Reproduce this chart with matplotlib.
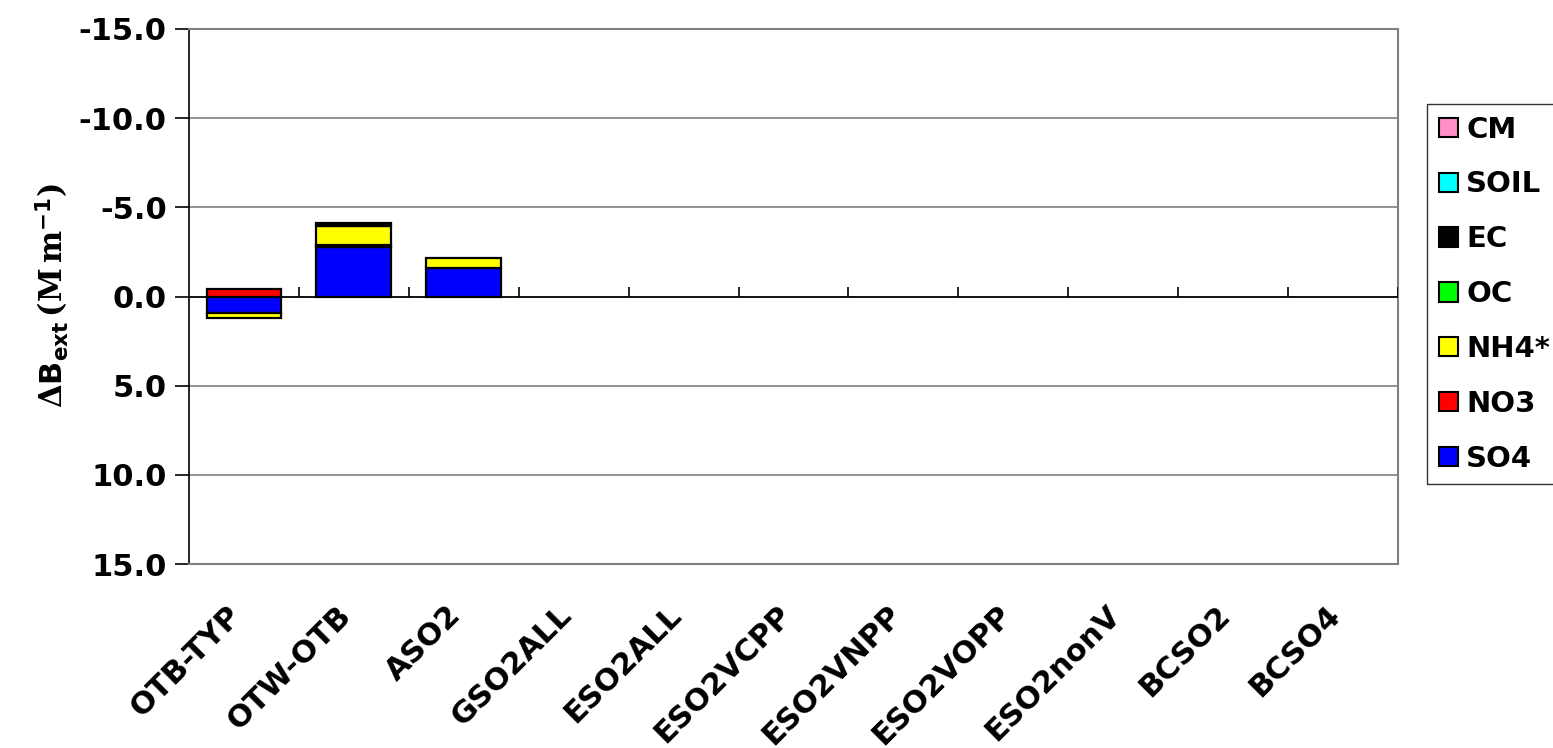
import matplotlib
matplotlib.use("Agg")
import matplotlib.pyplot as plt
import matplotlib.transforms as mtransforms
import numpy as np

categories = ["OTB-TYP", "OTW-OTB", "ASO2", "GSO2ALL", "ESO2ALL", "ESO2VCPP",
              "ESO2VNPP", "ESO2VOPP", "ESO2nonV", "BCSO2", "BCSO4"]
SO4 = [0.94, -2.80, -1.58, 0, 0, 0, 0, 0, 0, 0, 0]
NO3 = [-0.40, -0.08, 0, 0, 0, 0, 0, 0, 0, 0, 0]
NH4 = [0.28, -1.07, -0.56, 0, 0, 0, 0, 0, 0, 0, 0]
OC = [0, 0, 0, 0, 0, 0, 0, 0, 0, 0, 0]
EC = [0, -0.16, 0, 0, 0, 0, 0, 0, 0, 0, 0]
SOIL = [0, 0, 0, 0, 0, 0, 0, 0, 0, 0, 0]
CM = [0, 0, 0, 0, 0, 0, 0, 0, 0, 0, 0]
series_names = ["SO4", "NO3", "NH4*", "OC", "EC", "SOIL", "CM"]
series_values = [SO4, NO3, NH4, OC, EC, SOIL, CM]
series_colors = ["#0000FF", "#FF0000", "#FFFF00", "#00FF00", "#000000", "#00FFFF", "#FF8FC8"]
yticks = [-15, -10, -5, 0, 5, 10, 15]

plt.rcParams['font.family'] = ['DejaVu Sans']
plt.rcParams['font.weight'] = 'bold'
plt.rcParams['mathtext.fontset'] = 'custom'
plt.rcParams['mathtext.rm'] = 'DejaVu Serif'
plt.rcParams['mathtext.bf'] = 'DejaVu Sans:bold'
plt.rcParams['mathtext.it'] = 'DejaVu Sans:italic'

W, H = 1553, 748
fig = plt.figure(figsize=(W / 100, H / 100), dpi=100)
ax = fig.add_axes([189 / W, 1 - 564 / H, (1398 - 189) / W, (564 - 29) / H])

x = np.arange(len(categories))
pos_bottom = np.zeros(len(categories))
neg_bottom = np.zeros(len(categories))
handles = []
for name, vals, col in zip(series_names, series_values, series_colors):
    v = np.array(vals, dtype=float)
    bottoms = np.where(v >= 0, pos_bottom, neg_bottom)
    mask = v != 0
    ax.bar(x[mask], v[mask], bottom=bottoms[mask], width=0.68, color=col,
           edgecolor='black', linewidth=1.6, zorder=3)
    pos_bottom = pos_bottom + np.where(v > 0, v, 0)
    neg_bottom = neg_bottom + np.where(v < 0, v, 0)
    handles.append(plt.Rectangle((0, 0), 1, 1, facecolor=col, edgecolor='black', linewidth=1.5))

ax.set_xlim(-0.5, len(categories) - 0.5)
ax.set_ylim(15, -15)
ax.set_yticks(yticks)
ax.set_yticklabels([f"{t:.1f}" for t in yticks], fontsize=22, fontweight='bold')
ax.yaxis.grid(True, color='#808080', linewidth=1.2, zorder=0)
ax.tick_params(axis='y', length=10, width=1.2, color='black', pad=6, direction='out')

ax.set_xticks(x)
ax.set_xticklabels(categories, fontsize=22, fontweight='bold', rotation=45,
                   ha='right', va='center', rotation_mode='anchor')
ax.tick_params(axis='x', length=0, pad=38)
offset = mtransforms.ScaledTranslation(-7 / 100, 6 / 100, fig.dpi_scale_trans)
for lbl in ax.get_xticklabels():
    lbl.set_transform(lbl.get_transform() + offset)

# category axis at zero with tick marks at category boundaries
ax.axhline(0, color='black', linewidth=1.2, zorder=4)
bounds = np.arange(len(categories)) + 0.5
ax.vlines(bounds, 0, -0.56, color='black', linewidth=1.2, zorder=4)

for s in ['top', 'right', 'bottom']:
    ax.spines[s].set_color('#808080')
    ax.spines[s].set_linewidth(1.5)
ax.spines['left'].set_color('black')
ax.spines['left'].set_linewidth(1.2)

fig.text(52 / W, 1 - 296 / H,
         r'$\Delta\mathbf{B}_{\mathbf{ext}}\,(\mathrm{M}\,\mathrm{m}^{\mathbf{-1}})$',
         rotation=90, ha='center', va='center', fontsize=22)

leg = fig.legend(handles[::-1], series_names[::-1], loc='upper left',
                 bbox_to_anchor=(1427 / W, 1 - 104 / H), bbox_transform=fig.transFigure,
                 prop={'size': 21, 'weight': 'bold'}, frameon=True, fancybox=False,
                 handlelength=0.65, handleheight=0.65, handletextpad=0.3,
                 labelspacing=0.92, borderpad=0.4, borderaxespad=0)
leg.get_frame().set_edgecolor('black')
leg.get_frame().set_linewidth(1.0)

fig.savefig("out.png", dpi=100)
